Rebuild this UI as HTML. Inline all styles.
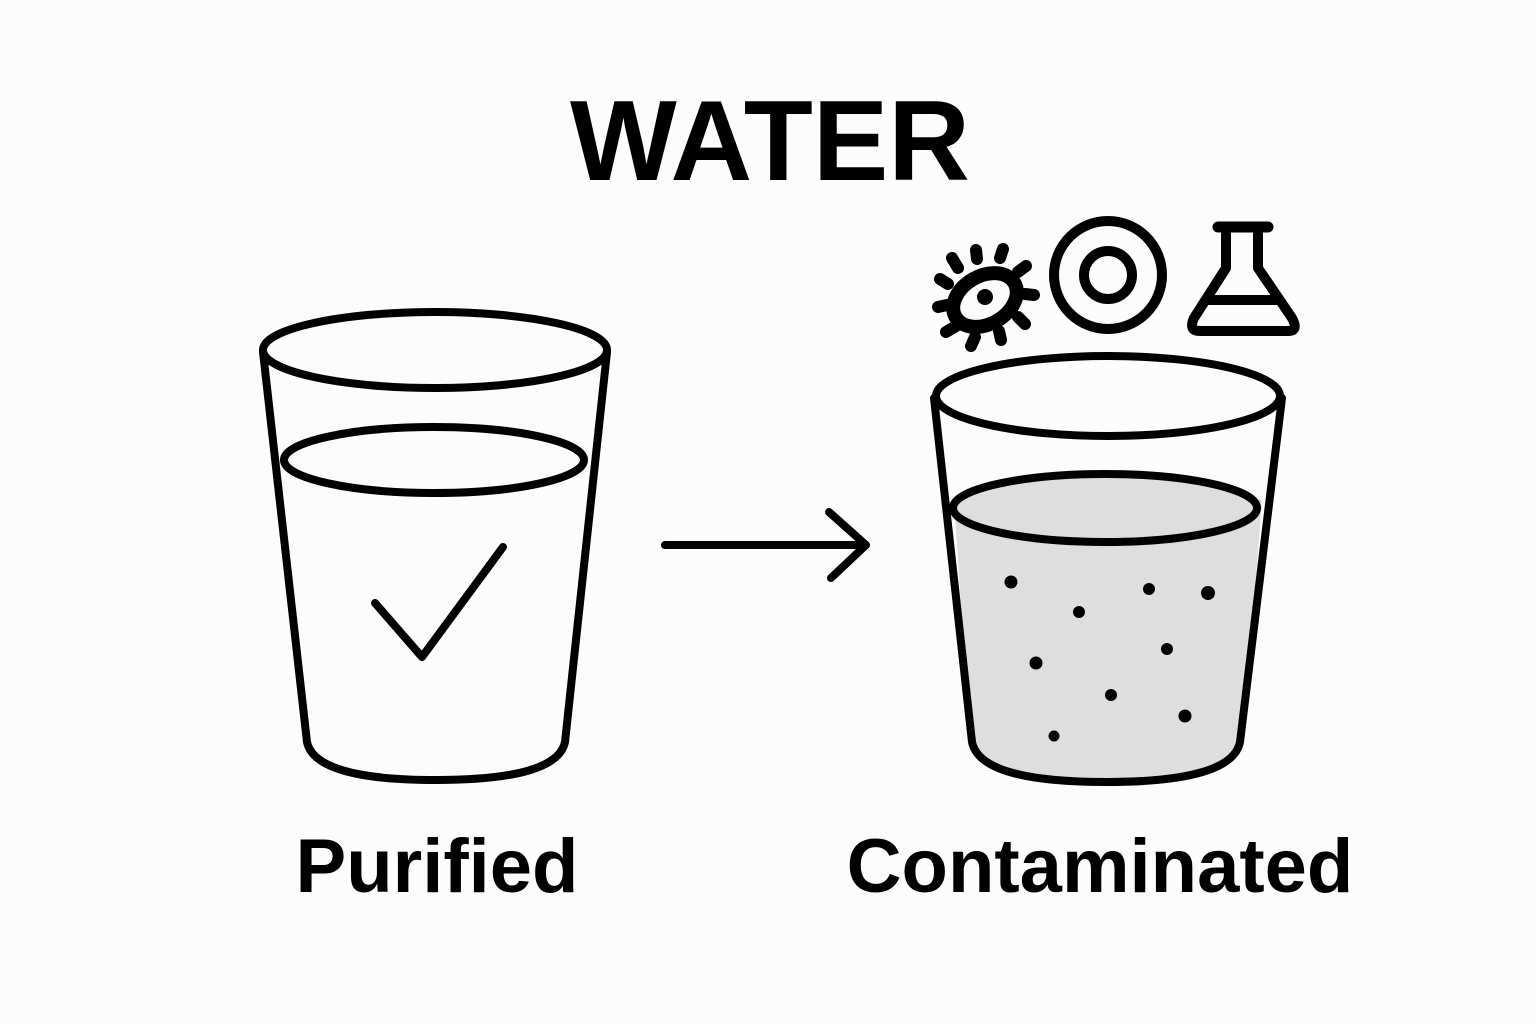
<!DOCTYPE html>
<html><head><meta charset="utf-8"><style>
html,body{margin:0;padding:0;background:#fcfcfc;}
svg{display:block;}
text{font-family:"Liberation Sans",sans-serif;font-weight:bold;fill:#000;}
</style></head><body>
<svg width="1536" height="1024" viewBox="0 0 1536 1024" xmlns="http://www.w3.org/2000/svg">
<rect width="1536" height="1024" fill="#fcfcfc"/>
<text x="570" y="180" font-size="114" textLength="400" lengthAdjust="spacingAndGlyphs">WATER</text>

<g fill="none" stroke="#000" stroke-width="8" stroke-linecap="round" stroke-linejoin="round">
<!-- left glass -->
<path d="M263,352 L307,742 Q315,780 436,780 Q557,780 565,742 L607,352"/>
<ellipse cx="435" cy="350" rx="172" ry="38" fill="#fcfcfc"/>
<ellipse cx="434" cy="460" rx="150" ry="33"/>
<path d="M375,603 L422,657 L503,547"/>

<!-- arrow -->
<path d="M665,545 L866,545 M829,512 L866,545 L831,578"/>

<!-- right glass -->
<path d="M954,500 Q1105,460 1262,500 L1243,742 Q1235,782 1106,782 Q978,782 970,742 Z" fill="#dedede" stroke="none"/>
<path d="M934,398 L972,742 Q980,782 1106,782 Q1232,782 1240,742 L1282,398"/>
<ellipse cx="1108" cy="396" rx="172" ry="40" fill="#fcfcfc"/>
<ellipse cx="1105" cy="508" rx="152" ry="34" fill="#dedede"/>

<!-- target -->
<circle cx="1108" cy="275" r="54" stroke-width="10"/>
<circle cx="1108" cy="275" r="24" stroke-width="10"/>

<!-- flask -->
<path d="M1218,227 L1268,227" stroke-width="11"/>
<path d="M1226,229 L1226,268 L1194,318 Q1188,331 1200,331 L1288,331 Q1299,331 1292,318 L1258,268 L1258,229" stroke-width="10"/>
<path d="M1207,300 L1278,300" stroke-width="10"/>

<!-- germ -->
<ellipse cx="985" cy="300" rx="34" ry="24" transform="rotate(-30 985 300)" stroke-width="14"/>
<g stroke-width="12">
<path d="M958,268 L952,258 M977,259 L976,250 M1000,258 L1003,249 M1018,272 L1026,266 M1025,294 L1034,295 M1018,317 L1025,324 M999,331 L1001,340 M975,337 L971,346 M956,326 L946,332 M947,305 L938,307 M948,284 L940,279"/>
</g>
</g>
<circle cx="985" cy="297" r="8" fill="#000"/>

<g fill="#000">
<circle cx="1011" cy="582" r="6.5"/><circle cx="1079" cy="612" r="6"/><circle cx="1149" cy="589" r="6"/>
<circle cx="1208" cy="593" r="7"/><circle cx="1167" cy="649" r="6"/><circle cx="1036" cy="663" r="6.5"/>
<circle cx="1111" cy="695" r="6"/><circle cx="1185" cy="716" r="6.5"/><circle cx="1054" cy="736" r="5.5"/>
</g>

<text x="437" y="892" font-size="76" text-anchor="middle">Purified</text>
<text x="1100" y="892" font-size="76" text-anchor="middle">Contaminated</text>
</svg>
</body></html>
